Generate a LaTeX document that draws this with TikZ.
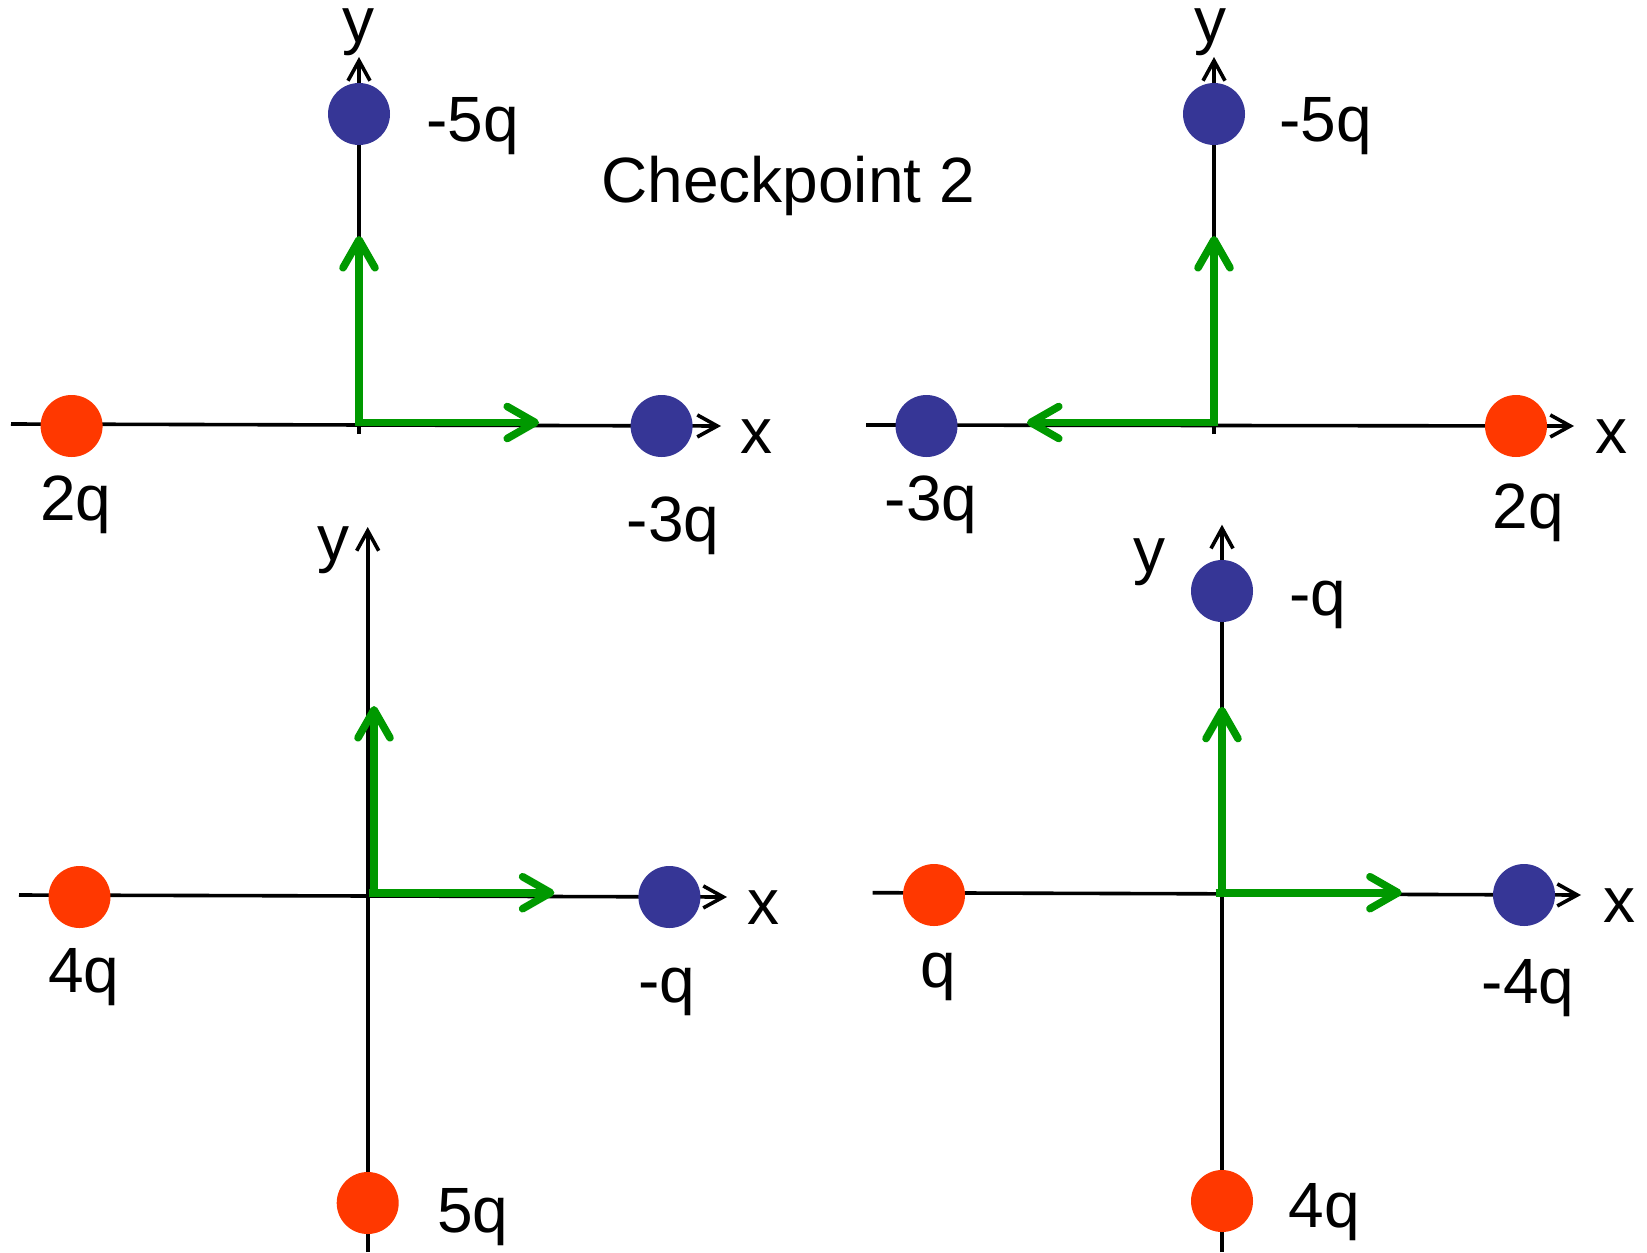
\documentclass[tikz,border=0pt]{standalone}
\usepackage{fontspec}
\setmainfont{Liberation Sans}
\usetikzlibrary{arrows.meta}
\definecolor{qred}{RGB}{255,56,0}
\definecolor{qblue}{RGB}{54,54,150}
\definecolor{fgreen}{RGB}{0,153,0}
\tikzset{
 axisline/.style={draw=black, line width=1.8pt, -{Straight Barb[length=10pt,width=11pt]}},
 forcearrow/.style={draw=fgreen, line width=3.8pt, -{Straight Barb[length=14pt,width=16pt,round]}},
 poscharge/.style={circle, fill=qred, inner sep=0pt, minimum size=31pt},
 negcharge/.style={circle, fill=qblue, inner sep=0pt, minimum size=31pt},
 lbl/.style={inner sep=0pt, font=\fontsize{32}{38}\selectfont},
}
\begin{document}
\begin{tikzpicture}[x=0.5pt,y=-0.5pt]
\useasboundingbox (0,0) rectangle (1647,1252);

% ---------- title
\node[lbl, anchor=base west] (title) at (601,202) {Checkpoint 2};

% ---------- top-left panel
\coordinate (tlxs) at (11,424);
\coordinate (tlxe) at (721,426);
\coordinate (tlys) at (359,434);
\coordinate (tlye) at (359,57);
\draw[axisline] (tlxs) -- (tlxe);
\draw[axisline] (tlys) -- (tlye);
\coordinate (tlo) at (359,423);
\coordinate (tloh) at (355,422.5);
\coordinate (tlfy) at (359,236);
\coordinate (tlfx) at (539,422.5);
\draw[forcearrow] (tlo) -- (tlfy);
\draw[forcearrow] (tloh) -- (tlfx);
\node[poscharge] (tla) at (71.6,426) {};
\node[negcharge] (tlb) at (661.6,426) {};
\node[negcharge] (tlc) at (359,114) {};
\node[lbl, anchor=base] (tlla) at (76,520) {2q};
\node[lbl, anchor=base] (tllb) at (673,541) {-3q};
\node[lbl, anchor=base west] (tllc) at (426,141) {-5q};
\node[lbl, anchor=base] (tlx) at (756,453) {x};
\node[lbl, anchor=base] (tly) at (358,43) {y};

% ---------- top-right panel
\coordinate (trxs) at (866,425);
\coordinate (trxe) at (1574,426);
\coordinate (trys) at (1214,434);
\coordinate (trye) at (1214,57);
\draw[axisline] (trxs) -- (trxe);
\draw[axisline] (trys) -- (trye);
\coordinate (tro) at (1214,423);
\coordinate (troh) at (1218,422.5);
\coordinate (trfy) at (1214,236);
\coordinate (trfx) at (1027,422.5);
\draw[forcearrow] (tro) -- (trfy);
\draw[forcearrow] (troh) -- (trfx);
\node[negcharge] (tra) at (926.5,426) {};
\node[poscharge] (trb) at (1516,426) {};
\node[negcharge] (trc) at (1214,114) {};
\node[lbl, anchor=base] (trla) at (931,520) {-3q};
\node[lbl, anchor=base] (trlb) at (1528,528) {2q};
\node[lbl, anchor=base west] (trlc) at (1279,141) {-5q};
\node[lbl, anchor=base] (trx) at (1611,453) {x};
\node[lbl, anchor=base] (try) at (1210,43) {y};

% ---------- bottom-left panel
\coordinate (blxs) at (19,895);
\coordinate (blxe) at (727,897);
\coordinate (blys) at (367.7,1252);
\coordinate (blye) at (367.7,527);
\draw[axisline] (blxs) -- (blxe);
\draw[axisline] (blys) -- (blye);
\coordinate (blo) at (374,893);
\coordinate (bloh) at (368.7,892.7);
\coordinate (blfy) at (374,706);
\coordinate (blfx) at (554.4,892.7);
\draw[forcearrow] (blo) -- (blfy);
\draw[forcearrow] (bloh) -- (blfx);
\node[poscharge] (bla) at (79.5,897) {};
\node[negcharge] (blb) at (669.4,897) {};
\node[poscharge] (blc) at (367.7,1203) {};
\node[lbl, anchor=base] (blla) at (83.7,992) {4q};
\node[lbl, anchor=base] (bllb) at (667,1002) {-q};
\node[lbl, anchor=base west] (bllc) at (436.7,1232) {5q};
\node[lbl, anchor=base] (blx) at (763.6,924) {x};
\node[lbl, anchor=base] (bly) at (333,560) {y};

% ---------- bottom-right panel
\coordinate (brxs) at (872.7,892.7);
\coordinate (brxe) at (1581,895);
\coordinate (brys) at (1222,1252);
\coordinate (brye) at (1222,524.7);
\draw[axisline] (brxs) -- (brxe);
\draw[axisline] (brys) -- (brye);
\coordinate (bro) at (1222,892.7);
\coordinate (broh) at (1215.5,892.7);
\coordinate (brfy) at (1222,706.8);
\coordinate (brfx) at (1401.7,892.7);
\draw[forcearrow] (bro) -- (brfy);
\draw[forcearrow] (broh) -- (brfx);
\node[poscharge] (bra) at (934,895) {};
\node[negcharge] (brb) at (1524,895) {};
\node[negcharge] (brc) at (1222,591) {};
\node[poscharge] (brd) at (1222,1201) {};
\node[lbl, anchor=base] (brla) at (938.6,987) {q};
\node[lbl, anchor=base] (brlb) at (1528,1003) {-4q};
\node[lbl, anchor=base west] (brlc) at (1289,615.7) {-q};
\node[lbl, anchor=base west] (brld) at (1288,1227.5) {4q};
\node[lbl, anchor=base] (brx) at (1619,922) {x};
\node[lbl, anchor=base] (bry) at (1149.6,572) {y};
\end{tikzpicture}
\end{document}
